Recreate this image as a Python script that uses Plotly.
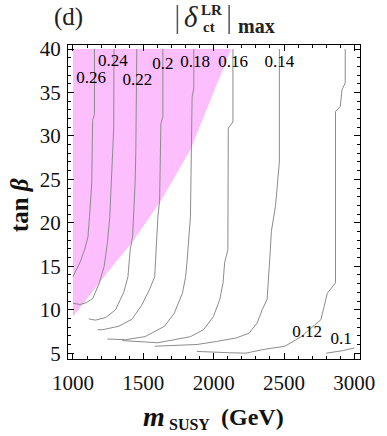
import plotly.graph_objects as go

# ---------------- data ----------------
levels = ["0.26", "0.24", "0.22", "0.2", "0.18", "0.16", "0.14", "0.12", "0.1"]

c026_x = [1153, 1153, 1140, 1138, 1134, 1118, 1107, 1083, 1049, 1000]
c026_y = [40, 32.5, 31.8, 28.4, 24.6, 20.7, 18.4, 16.9, 15.4, 13.8]

c024_x = [1292, 1290, 1283, 1273, 1262, 1245, 1222, 1188, 1141, 1095, 1050, 1000]
c024_y = [40, 31, 28.4, 24.6, 20.7, 17.7, 15.0, 13.1, 11.3, 10.8, 10.6, 10.75]

c022_x = [1454, 1452, 1447, 1442, 1431, 1424, 1407, 1391, 1361, 1303, 1233, 1160, 1113]
c022_y = [40, 31, 28.4, 24.6, 20.7, 18.4, 16.9, 13.8, 12.0, 10.0, 9.1, 8.8, 8.95]

c020_x = [1639, 1639, 1625, 1623, 1616, 1604, 1592, 1581, 1546, 1488, 1419, 1326, 1211, 1176]
c020_y = [40, 32.2, 31.4, 28.4, 22.6, 20.7, 16.9, 13.8, 12.4, 10.5, 8.9, 8.1, 7.7, 7.7]

c018_x = [1859, 1859, 1847, 1843, 1835, 1812, 1801, 1778, 1720, 1651, 1512, 1373, 1245]
c018_y = [40, 35.5, 34.5, 28.4, 20.7, 15.75, 13.8, 11.9, 9.6, 8.1, 6.9, 6.55, 6.63]

c016_x = [2137, 2137, 2104, 2101, 2078, 2067, 2044, 1998, 1928, 1835, 1604, 1350]
c016_y = [40, 31.6, 30.9, 16.9, 15.4, 13.1, 11.2, 9.2, 7.7, 6.9, 6.2, 6.45]

c014_x = [2467, 2467, 2440, 2410, 2403, 2391, 2380, 2345, 2310, 2252, 2160, 2021, 1882, 1581]
c014_y = [40, 27, 22, 19, 16.9, 13.1, 11.2, 10.0, 8.5, 7.3, 6.75, 6.35, 6.0, 5.8]

c012_x = [2935, 2935, 2912, 2900, 2866, 2866, 2808, 2762, 2622, 2507, 2345, 2229, 2113, 1882]
c012_y = [40, 36.1, 35.3, 33.4, 32.8, 13.1, 11.9, 8.85, 6.9, 5.8, 5.4, 5.0, 5.05, 5.2]

c010_x = [2800, 2920, 3000]
c010_y = [5.0, 5.3, 5.6]

# excluded (pink) region boundary
pink_x = [1000, 1000, 1280, 1419, 1627, 1835, 1974, 2125]
pink_y = [40, 9.2, 15.0, 17.7, 22.6, 28.4, 34.0, 40]

# contour label positions
label_x = [1130, 1283, 1458, 1639, 1868, 2139, 2467, 2665, 2906]
label_y = [36.63, 38.54, 36.36, 38.16, 38.43, 38.43, 38.43, 7.32, 6.55]

x_ticks = [1000, 1500, 2000, 2500, 3000]
y_ticks = [5, 10, 15, 20, 25, 30, 35, 40]

# ---------------- figure ----------------
W, H = 387, 436
ML, MR, MT, MB = 68, 20, 45, 77
SERIF = "Liberation Serif, Times New Roman, serif"


def px(x):
    return (x - ML) / (W - ML - MR)


def py(y):
    return (H - MB - y) / (H - MT - MB)


fig = go.Figure()

fig.add_trace(go.Scatter(
    x=pink_x, y=pink_y, mode="lines", fill="toself",
    fillcolor="#FDBEFD", line=dict(width=0), hoverinfo="skip", showlegend=False))

contours = [(c026_x, c026_y), (c024_x, c024_y), (c022_x, c022_y), (c020_x, c020_y),
            (c018_x, c018_y), (c016_x, c016_y), (c014_x, c014_y), (c012_x, c012_y),
            (c010_x, c010_y)]
for (cx, cy), lv in zip(contours, levels):
    fig.add_trace(go.Scatter(
        x=cx, y=cy, mode="lines", name=lv,
        line=dict(color="rgb(140,140,140)", width=1), showlegend=False))

fig.add_trace(go.Scatter(
    x=label_x, y=label_y, mode="text", text=levels,
    textfont=dict(family=SERIF, size=17, color="black"),
    hoverinfo="skip", showlegend=False))

axis_common = dict(
    showgrid=False, zeroline=False, showline=True, linecolor="black", linewidth=1,
    ticks="inside", mirror="allticks", tickcolor="black", tickwidth=1,
    tickfont=dict(family=SERIF, size=21, color="#111"),
)

fig.update_xaxes(range=[965, 3040], tickvals=x_ticks, ticklen=6,
                 minor=dict(dtick=100, tick0=1000, ticks="inside", ticklen=3, tickcolor="black"),
                 ticklabelstandoff=5, **axis_common)
fig.update_yaxes(range=[4.33, 40.46], tickvals=y_ticks, ticklen=6,
                 minor=dict(dtick=1, tick0=5, ticks="inside", ticklen=3, tickcolor="black"),
                 ticklabelstandoff=2, **axis_common)

ann = []
ann.append(dict(text="(d)", x=px(68), y=py(17), font=dict(family=SERIF, size=25, color="#222")))
ann.append(dict(text="<i>δ</i>", x=px(194), y=py(17), font=dict(family=SERIF, size=29, color="#222")))
ann.append(dict(text="<b>LR</b>", x=px(215), y=py(10), font=dict(family=SERIF, size=15, color="#222")))
ann.append(dict(text="<b>ct</b>", x=px(212), y=py(27), font=dict(family=SERIF, size=15, color="#222")))
ann.append(dict(text="<b>max</b>", x=px(261), y=py(26), font=dict(family=SERIF, size=20, color="#222")))
ann.append(dict(text="<b><i>m</i></b>", x=px(156), y=py(416), font=dict(family=SERIF, size=28, color="#111")))
ann.append(dict(text="<b>SUSY</b>", x=px(192), y=py(424), font=dict(family=SERIF, size=16, color="#111")))
ann.append(dict(text="<b>(GeV)</b>", x=px(257), y=py(417), font=dict(family=SERIF, size=24, color="#111")))
ann.append(dict(text="<b>tan <i>β</i></b>", x=px(18), y=py(205), textangle=-90,
                font=dict(family=SERIF, size=25, color="#111")))
for a in ann:
    a.update(xref="paper", yref="paper", showarrow=False, xanchor="center", yanchor="middle")

shapes = []
for bx in (180, 233):
    shapes.append(dict(type="line", xref="paper", yref="paper",
                       x0=px(bx), x1=px(bx), y0=py(5), y1=py(34),
                       line=dict(color="#555", width=1.5)))

fig.update_layout(
    width=W, height=H, margin=dict(l=ML, r=MR, t=MT, b=MB),
    paper_bgcolor="white", plot_bgcolor="white",
    annotations=ann, shapes=shapes, showlegend=False,
)

fig.write_html("out.html", config={"displayModeBar": False, "staticPlot": True},
               post_script="document.body.style.margin='0';document.body.style.overflow='hidden';")
